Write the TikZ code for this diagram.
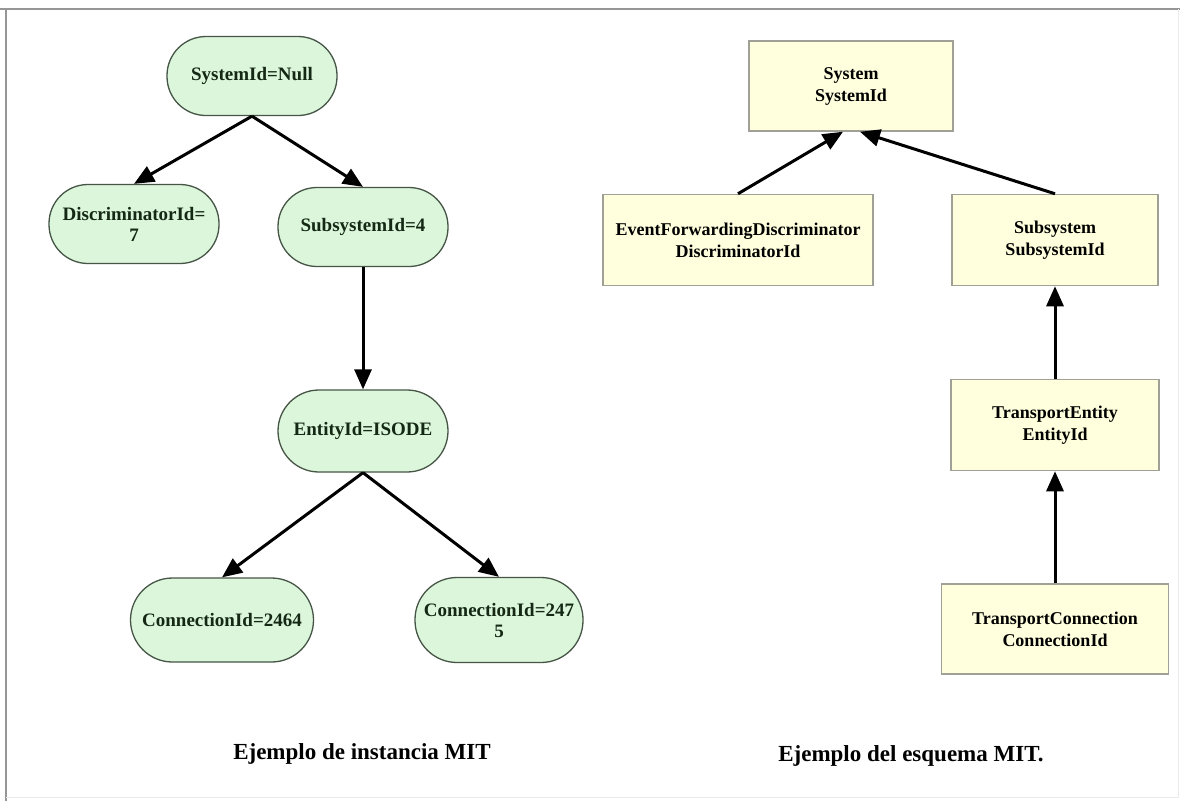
\documentclass[tikz,border=0pt]{standalone}
\usepackage{fontspec}
\setmainfont{Liberation Serif}
\usetikzlibrary{arrows.meta}
\definecolor{instfill}{RGB}{220,246,220}
\definecolor{instdraw}{RGB}{70,85,70}
\definecolor{insttext}{RGB}{20,40,20}
\definecolor{schfill}{RGB}{255,255,222}
\definecolor{schdraw}{RGB}{160,160,150}
\definecolor{framegray}{RGB}{150,150,150}
\tikzset{
  inst/.style={draw=instdraw, line width=1.3pt, fill=instfill, text=insttext,
    rounded corners=39pt, minimum width=170pt, minimum height=79pt,
    inner sep=0pt, align=center, font=\fontsize{19}{21}\selectfont\bfseries},
  schema/.style={draw=schdraw, line width=1.5pt, fill=schfill, text=black,
    minimum height=91pt, inner sep=0pt, align=center,
    font=\fontsize{18}{22}\selectfont\bfseries},
  link/.style={line width=3pt, -{Triangle[length=20pt,width=17pt]}},
  caption/.style={font=\fontsize{23}{26}\selectfont\bfseries, inner sep=0pt}
}
\begin{document}
\begin{tikzpicture}[x=1pt,y=-1pt]
\useasboundingbox (0,0) rectangle (1180,801);
\fill[white] (0,0) rectangle (1180,801);
% frame
\draw[framegray, line width=2pt] (0,9) -- (1180,9);
\draw[framegray, line width=2pt] (6,9) -- (6,801);
\draw[black!8, line width=1pt] (1178,9) -- (1178,797) -- (6,797);

% MIT instance tree
\node[inst] (sys)  at (252,76)  {SystemId=Null};
\node[inst] (disc) at (134,224) {DiscriminatorId=\\7};
\node[inst] (sub)  at (363,227) {SubsystemId=4};
\node[inst, minimum height=82pt, rounded corners=41pt] (ent) at (363,431) {EntityId=ISODE};
\node[inst, minimum width=183pt, minimum height=84pt, rounded corners=42pt] (con1) at (222,620) {ConnectionId=2464};
\node[inst, minimum width=168pt, minimum height=85pt, rounded corners=42pt] (con2) at (499,620) {ConnectionId=247\\5};

\draw[link] (sys.south) -- (disc.north);
\draw[link] (sys.south) -- (sub.north);
\draw[link] (sub.south) -- (ent.north);
\draw[link] (ent.south) -- (con1.north);
\draw[link] (ent.south) -- (con2.north);

% MIT schema
\node[schema, minimum width=204pt, minimum height=90pt] (ssys) at (851,86) {System\\SystemId};
\node[schema, minimum width=270pt] (sefd) at (738,240) {EventForwardingDiscriminator\\DiscriminatorId};
\node[schema, minimum width=206pt] (ssub) at (1055,240) {Subsystem\\SubsystemId};
\node[schema, minimum width=208pt] (sent) at (1055,425) {TransportEntity\\EntityId};
\node[schema, minimum width=227pt, minimum height=90pt] (scon) at (1055,629) {TransportConnection\\ConnectionId};

\draw[link] (sefd.north) -- ([xshift=-8pt]ssys.south);
\draw[link] (ssub.north) -- ([xshift=9pt]ssys.south);
\draw[link] (sent.north) -- (ssub.south);
\draw[link] (scon.north) -- (sent.south);

% captions
\node[caption] (cap1) at (362,754) {Ejemplo de instancia MIT};
\node[caption] (cap2) at (911,756) {Ejemplo del esquema MIT.};
\end{tikzpicture}
\end{document}
